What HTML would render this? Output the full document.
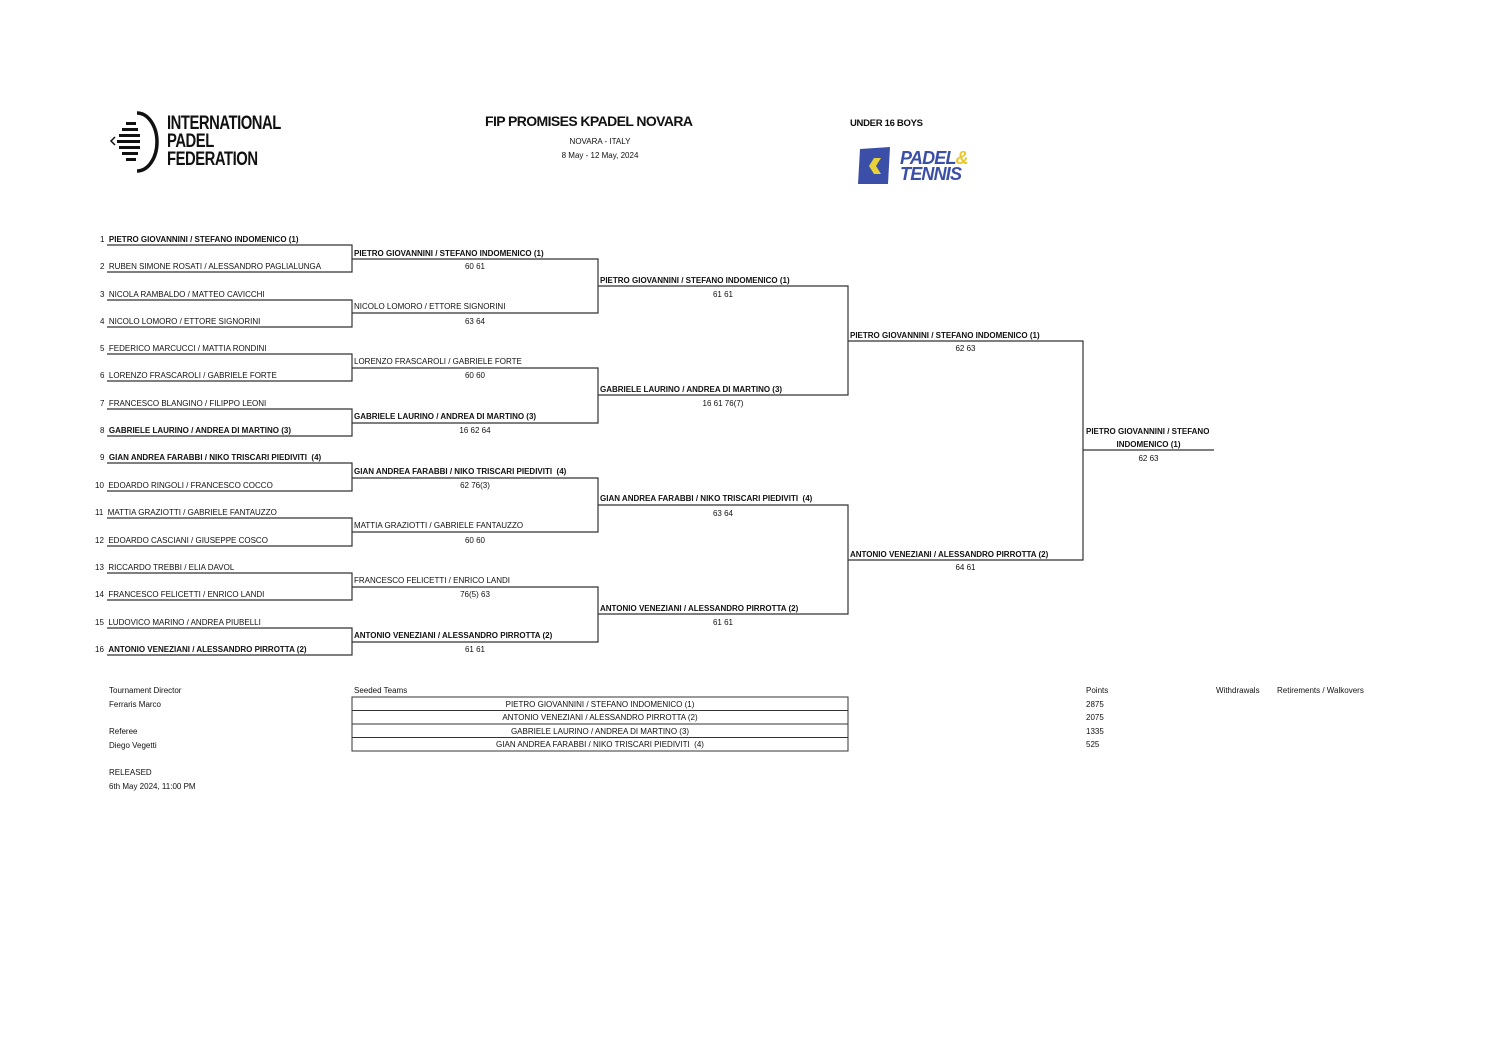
<!DOCTYPE html>
<html><head><meta charset="utf-8"><style>
body{margin:0;background:#fff;}
#p{position:relative;width:1496px;height:1059px;overflow:hidden;font-family:"Liberation Sans",sans-serif;color:#111;}
.t{position:absolute;font-size:8px;white-space:nowrap;letter-spacing:0px;line-height:9px;}
.b{font-weight:bold;}
.c{text-align:center;}
.n{font-weight:normal;}
</style></head><body><div id="p">
<svg width="1496" height="1059" style="position:absolute;left:0;top:0" stroke="#333" stroke-width="1.2" fill="none">
<path d="M107 245H352V272H107 M107 300H352V327H107 M107 354H352V381H107 M107 409H352V436H107 M107 463H352V491H107 M107 518H352V546H107 M107 573H352V600H107 M107 628H352V655H107"/>
<path d="M352 259H598V313H352 M352 368H598V423H352 M352 478H598V532H352 M352 587H598V642H352"/>
<path d="M598 286H848V395H598 M598 505H848V614H598"/>
<path d="M848 341H1083V560H848"/>
<path d="M1083 450H1214"/>
<rect x="352" y="697" width="496" height="54" stroke-width="1"/>
<path d="M352 710.5H848M352 724H848M352 737.5H848" stroke-width="1"/>
<path d="M137 113 A20 29 0 0 1 137 171" stroke="#111" stroke-width="3.5"/>
<path d="M115 137 L111 141 L115 145" stroke="#111" stroke-width="1.5"/>
<g fill="#111" stroke="none">
<rect x="126" y="122" width="10" height="3"/><rect x="122" y="128" width="16" height="3"/><rect x="119" y="134" width="21" height="3"/><rect x="117" y="140" width="23" height="3"/><rect x="119" y="146" width="21" height="3"/><rect x="122" y="152" width="16" height="3"/><rect x="126" y="158" width="10" height="3"/>
</g>
<path d="M860 149 L890 147 L888 184 L858 184 Z" fill="#3b4fa8" stroke="none"/>
<path d="M874 158 L881 158 L876 166 L881 174 L874 174 L869 166Z" fill="#e8d23a" stroke="none"/>
</svg>
<div class="t b" style="left:167px;top:115px;font-size:19px;line-height:18px;letter-spacing:-0.6px;transform:scaleX(0.78);transform-origin:left">INTERNATIONAL<br>PADEL<br>FEDERATION</div>
<div class="t b" style="left:900px;top:150px;font-size:18px;line-height:16px;font-style:italic;color:#3b4fa8;letter-spacing:-0.8px">PADEL<span style="color:#e8c72a">&amp;</span><br>TENNIS</div>
<div class="t b" style="left:485px;top:113px;font-size:14px;line-height:16px;letter-spacing:-0.6px">FIP PROMISES KPADEL NOVARA</div>
<div class="t c" style="left:500px;top:137px;width:200px">NOVARA - ITALY</div>
<div class="t c" style="left:500px;top:151px;width:200px">8 May - 12 May, 2024</div>
<div class="t b" style="left:850px;top:118px;font-size:9.5px;line-height:11px;letter-spacing:-0.3px">UNDER 16 BOYS</div>

<div class="t" style="left:100px;top:235px">1&nbsp; <b>PIETRO GIOVANNINI / STEFANO INDOMENICO (1)</b></div>
<div class="t" style="left:100px;top:262px">2&nbsp; RUBEN SIMONE ROSATI / ALESSANDRO PAGLIALUNGA</div>
<div class="t" style="left:100px;top:290px">3&nbsp; NICOLA RAMBALDO / MATTEO CAVICCHI</div>
<div class="t" style="left:100px;top:317px">4&nbsp; NICOLO LOMORO / ETTORE SIGNORINI</div>
<div class="t" style="left:100px;top:344px">5&nbsp; FEDERICO MARCUCCI / MATTIA RONDINI</div>
<div class="t" style="left:100px;top:371px">6&nbsp; LORENZO FRASCAROLI / GABRIELE FORTE</div>
<div class="t" style="left:100px;top:399px">7&nbsp; FRANCESCO BLANGINO / FILIPPO LEONI</div>
<div class="t" style="left:100px;top:426px">8&nbsp; <b>GABRIELE LAURINO / ANDREA DI MARTINO (3)</b></div>
<div class="t" style="left:100px;top:453px">9&nbsp; <b>GIAN ANDREA FARABBI / NIKO TRISCARI PIEDIVITI&nbsp; (4)</b></div>
<div class="t" style="left:95px;top:481px">10&nbsp; EDOARDO RINGOLI / FRANCESCO COCCO</div>
<div class="t" style="left:95px;top:508px">11&nbsp; MATTIA GRAZIOTTI / GABRIELE FANTAUZZO</div>
<div class="t" style="left:95px;top:536px">12&nbsp; EDOARDO CASCIANI / GIUSEPPE COSCO</div>
<div class="t" style="left:95px;top:563px">13&nbsp; RICCARDO TREBBI / ELIA DAVOL</div>
<div class="t" style="left:95px;top:590px">14&nbsp; FRANCESCO FELICETTI / ENRICO LANDI</div>
<div class="t" style="left:95px;top:618px">15&nbsp; LUDOVICO MARINO / ANDREA PIUBELLI</div>
<div class="t" style="left:95px;top:645px">16&nbsp; <b>ANTONIO VENEZIANI / ALESSANDRO PIRROTTA (2)</b></div>

<div class="t b" style="left:354px;top:249px">PIETRO GIOVANNINI / STEFANO INDOMENICO (1)</div>
<div class="t c" style="left:352px;top:262px;width:246px">60 61</div>
<div class="t" style="left:354px;top:302px">NICOLO LOMORO / ETTORE SIGNORINI</div>
<div class="t c" style="left:352px;top:317px;width:246px">63 64</div>
<div class="t" style="left:354px;top:357px">LORENZO FRASCAROLI / GABRIELE FORTE</div>
<div class="t c" style="left:352px;top:371px;width:246px">60 60</div>
<div class="t b" style="left:354px;top:412px">GABRIELE LAURINO / ANDREA DI MARTINO (3)</div>
<div class="t c" style="left:352px;top:426px;width:246px">16 62 64</div>
<div class="t b" style="left:354px;top:467px">GIAN ANDREA FARABBI / NIKO TRISCARI PIEDIVITI&nbsp; (4)</div>
<div class="t c" style="left:352px;top:481px;width:246px">62 76(3)</div>
<div class="t" style="left:354px;top:521px">MATTIA GRAZIOTTI / GABRIELE FANTAUZZO</div>
<div class="t c" style="left:352px;top:536px;width:246px">60 60</div>
<div class="t" style="left:354px;top:576px">FRANCESCO FELICETTI / ENRICO LANDI</div>
<div class="t c" style="left:352px;top:590px;width:246px">76(5) 63</div>
<div class="t b" style="left:354px;top:631px">ANTONIO VENEZIANI / ALESSANDRO PIRROTTA (2)</div>
<div class="t c" style="left:352px;top:645px;width:246px">61 61</div>

<div class="t b" style="left:600px;top:276px">PIETRO GIOVANNINI / STEFANO INDOMENICO (1)</div>
<div class="t c" style="left:598px;top:290px;width:250px">61 61</div>
<div class="t b" style="left:600px;top:385px">GABRIELE LAURINO / ANDREA DI MARTINO (3)</div>
<div class="t c" style="left:598px;top:399px;width:250px">16 61 76(7)</div>
<div class="t b" style="left:600px;top:494px">GIAN ANDREA FARABBI / NIKO TRISCARI PIEDIVITI&nbsp; (4)</div>
<div class="t c" style="left:598px;top:509px;width:250px">63 64</div>
<div class="t b" style="left:600px;top:604px">ANTONIO VENEZIANI / ALESSANDRO PIRROTTA (2)</div>
<div class="t c" style="left:598px;top:618px;width:250px">61 61</div>

<div class="t b" style="left:850px;top:331px">PIETRO GIOVANNINI / STEFANO INDOMENICO (1)</div>
<div class="t c" style="left:848px;top:344px;width:235px">62 63</div>
<div class="t b" style="left:850px;top:550px">ANTONIO VENEZIANI / ALESSANDRO PIRROTTA (2)</div>
<div class="t c" style="left:848px;top:563px;width:235px">64 61</div>

<div class="t b" style="left:1086px;top:427px">PIETRO GIOVANNINI / STEFANO</div>
<div class="t b c" style="left:1083px;top:440px;width:131px">INDOMENICO (1)</div>
<div class="t c" style="left:1083px;top:454px;width:131px">62 63</div>

<div class="t" style="left:109px;top:686px">Tournament Director</div>
<div class="t" style="left:109px;top:700px">Ferraris Marco</div>
<div class="t" style="left:109px;top:727px">Referee</div>
<div class="t" style="left:109px;top:741px">Diego Vegetti</div>
<div class="t" style="left:109px;top:768px">RELEASED</div>
<div class="t" style="left:109px;top:782px">6th May 2024, 11:00 PM</div>
<div class="t" style="left:354px;top:686px">Seeded Teams</div>
<div class="t c" style="left:352px;top:700px;width:496px">PIETRO GIOVANNINI / STEFANO INDOMENICO (1)</div>
<div class="t c" style="left:352px;top:713px;width:496px">ANTONIO VENEZIANI / ALESSANDRO PIRROTTA (2)</div>
<div class="t c" style="left:352px;top:727px;width:496px">GABRIELE LAURINO / ANDREA DI MARTINO (3)</div>
<div class="t c" style="left:352px;top:740px;width:496px">GIAN ANDREA FARABBI / NIKO TRISCARI PIEDIVITI&nbsp; (4)</div>
<div class="t" style="left:1086px;top:686px">Points</div>
<div class="t" style="left:1086px;top:700px">2875</div>
<div class="t" style="left:1086px;top:713px">2075</div>
<div class="t" style="left:1086px;top:727px">1335</div>
<div class="t" style="left:1086px;top:740px">525</div>
<div class="t" style="left:1216px;top:686px">Withdrawals</div>
<div class="t" style="left:1277px;top:686px">Retirements / Walkovers</div>
</div></body></html>
